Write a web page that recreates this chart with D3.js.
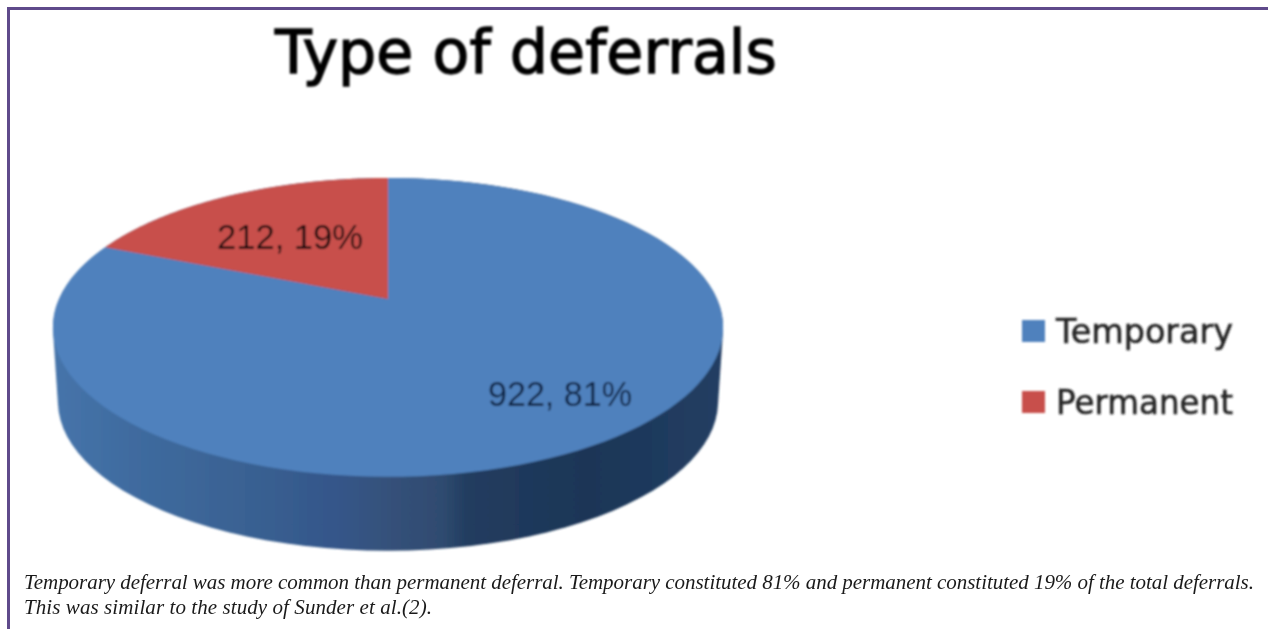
<!DOCTYPE html>
<html>
<head>
    <meta charset="utf-8">
    <title>Type of deferrals</title>
    <script src="https://d3js.org/d3.v7.min.js"></script>
    <style>
        html, body { margin: 0; padding: 0; background: #fff; overflow: hidden; }
        svg { display: block; }
    </style>
</head>
<body>
    <svg width="1268" height="629"></svg>
    <script>
        var categories = ["Temporary", "Permanent"];
        var values = [922, 212];
        var percents = [81, 19];
        var colors = ["#4f81bd", "#c8504b"];
        var chartTitle = "Type of deferrals";
        var captionLines = [
            "Temporary deferral was more common than permanent deferral. Temporary constituted 81% and permanent constituted 19% of the total deferrals.",
            "This was similar to the study of Sunder et al.(2)."
        ];

        var svg = d3.select("svg");
        var defs = svg.append("defs");

        // the source is a soft, upscaled bitmap
        defs.append("filter").attr("id", "soft")
            .attr("x", "-5%").attr("y", "-5%").attr("width", "110%").attr("height", "110%")
            .append("feGaussianBlur").attr("stdDeviation", 0.8);

        var sideGrad = defs.append("linearGradient").attr("id", "side")
            .attr("gradientUnits", "userSpaceOnUse")
            .attr("x1", 54).attr("x2", 723).attr("y1", 0).attr("y2", 0);
        [[0, "#4674aa"], [0.12, "#3f6b9f"], [0.28, "#3a6293"], [0.42, "#34568a"],
         [0.5, "#35517a"], [0.58, "#2f4b70"], [0.62, "#213c5f"], [0.8, "#1e3657"], [1, "#213e63"]]
            .forEach(function (s) {
                sideGrad.append("stop").attr("offset", s[0]).attr("stop-color", s[1]);
            });

        // perspective of the tilted disc, pie angle -> screen
        var tilt = 0.19;
        var xScale = d3.scaleLinear().domain([-1, 1]).range([59, 717]);
        var yScale = d3.scaleLinear().domain([-1, 1]).range([443, 155]);

        function project(a) {
            var u = Math.sin(a), v = Math.cos(a), w = 1 + tilt * v;
            return [xScale(u / w), yScale(v / w)];
        }

        function arcPoints(a0, a1) {
            return d3.range(0, 121).map(function (i) {
                return project(a0 + (a1 - a0) * i / 120);
            });
        }

        var slices = d3.pie().sort(null)(values);
        var line = d3.line();
        var apex = [xScale(0), yScale(0)];

        // side wall: hull of the rim and the rim pushed down
        var depth = 74;
        var rim = arcPoints(0, 2 * Math.PI);
        var lower = rim.map(function (p) {
            return [apex[0] + (p[0] - apex[0]) * 0.985, p[1] + depth];
        });
        var chart = svg.append("g").attr("filter", "url(#soft)");

        chart.append("path")
            .attr("d", line(d3.polygonHull(rim.concat(lower))) + "Z")
            .attr("fill", "url(#side)");

        chart.selectAll("path.slice")
            .data(slices)
            .enter().append("path")
            .attr("class", "slice")
            .attr("d", function (d) {
                return line([apex].concat(arcPoints(d.startAngle, d.endAngle))) + "Z";
            })
            .attr("fill", function (d, i) { return colors[i]; });

        // data labels
        var labelPos = [[560, 406, "#0f2444", 144], [290, 249, "#1a0d0d", 146]];
        chart.selectAll("text.label")
            .data(values)
            .enter().append("text")
            .attr("class", "label")
            .attr("x", function (d, i) { return labelPos[i][0]; })
            .attr("y", function (d, i) { return labelPos[i][1]; })
            .attr("text-anchor", "middle")
            .attr("font-family", "Liberation Sans, sans-serif")
            .attr("font-size", 35)
            .attr("textLength", function (d, i) { return labelPos[i][3]; })
            .attr("lengthAdjust", "spacingAndGlyphs")
            .attr("fill", function (d, i) { return labelPos[i][2]; })
            .text(function (d, i) { return d + ", " + percents[i] + "%"; });

        // title
        chart.append("text")
            .attr("x", 526).attr("y", 73)
            .attr("text-anchor", "middle")
            .attr("font-family", "DejaVu Sans, sans-serif")
            .attr("font-size", 60)
            .attr("textLength", 502)
            .attr("lengthAdjust", "spacingAndGlyphs")
            .attr("fill", "#000")
            .attr("stroke", "#000")
            .attr("stroke-width", 1.3)
            .text(chartTitle);

        // legend
        var legendY = d3.scalePoint().domain(categories).range([331, 402]);
        var legend = chart.selectAll("g.legend")
            .data(categories)
            .enter().append("g")
            .attr("class", "legend")
            .attr("transform", function (d) { return "translate(1022," + legendY(d) + ")"; });
        legend.append("rect")
            .attr("x", 0).attr("y", -11).attr("width", 23).attr("height", 22)
            .attr("fill", function (d, i) { return colors[i]; });
        legend.append("text")
            .attr("x", 34).attr("y", 12)
            .attr("font-family", "DejaVu Sans, sans-serif")
            .attr("font-size", 33)
            .attr("textLength", 177)
            .attr("lengthAdjust", "spacingAndGlyphs")
            .attr("fill", "#222")
            .attr("stroke", "#222")
            .attr("stroke-width", 0.5)
            .text(function (d) { return d; });

        // frame
        svg.append("path")
            .attr("d", "M1268,8.5H8.5V629")
            .attr("fill", "none")
            .attr("stroke", "#5f4a8b")
            .attr("stroke-width", 3);

        // caption
        var captionWidths = [1230, 408];
        svg.selectAll("text.caption")
            .data(captionLines)
            .enter().append("text")
            .attr("class", "caption")
            .attr("x", 24)
            .attr("y", function (d, i) { return 589 + i * 25; })
            .attr("font-family", "Liberation Serif, serif")
            .attr("font-style", "italic")
            .attr("font-size", 21)
            .attr("textLength", function (d, i) { return captionWidths[i]; })
            .attr("lengthAdjust", "spacing")
            .attr("fill", "#1a1a1a")
            .text(function (d) { return d; });
    </script>
</body>
</html>
